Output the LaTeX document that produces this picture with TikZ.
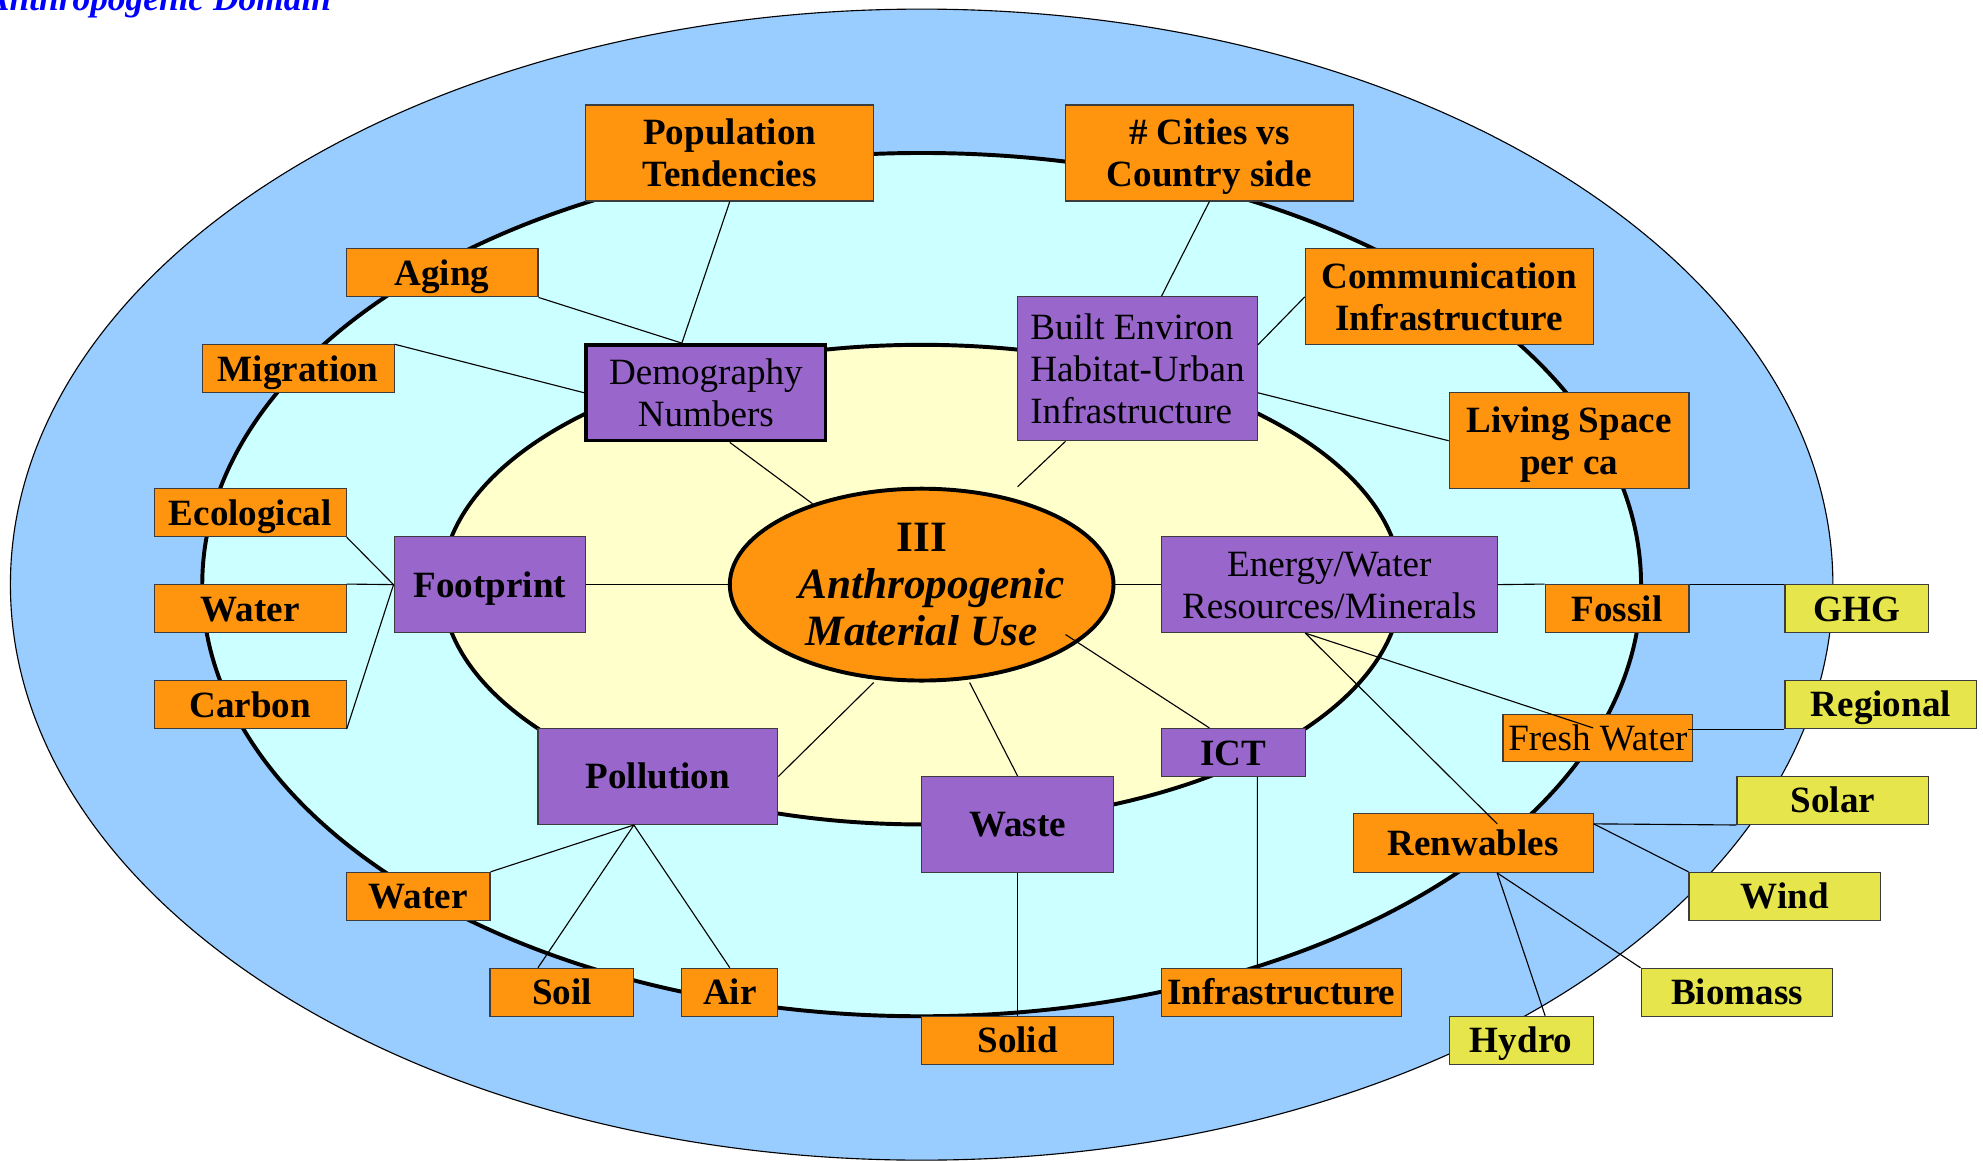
\documentclass[tikz,border=0pt]{standalone}
\usepackage{fontspec}
\setmainfont{Liberation Serif}
\usetikzlibrary{shapes.geometric,calc}

\definecolor{sky}{HTML}{99CCFF}
\definecolor{aqua}{HTML}{CCFFFF}
\definecolor{cream}{HTML}{FFFFCC}
\definecolor{orng}{HTML}{FF950E}
\definecolor{purp}{HTML}{9966CC}
\definecolor{yell}{HTML}{E6E64C}
\definecolor{edge}{HTML}{3C3C3C}
\newlength\gu
\setlength\gu{0.6cm}
\newcommand\boxfont{\fontsize{13.2pt}{14.9pt}\selectfont}
\newcommand\matfont{\fontsize{15.4pt}{16.8pt}\selectfont}
\newcommand\ts{\rule[-2.85pt]{0pt}{14.61pt}}

\begin{document}
\begin{tikzpicture}[x=0.6cm, y=-0.6cm,
  box/.style={draw=edge, line width=0.4pt, inner sep=0pt, align=center, font=\boxfont\bfseries, execute at begin node=\ts},
  sz/.style 2 args={minimum width=#1\gu, minimum height=#2\gu},
  obox/.style={box, fill=orng},
  pbox/.style={box, fill=purp},
  ybox/.style={box, fill=yell},
  link/.style={draw=black, line width=0.4pt}]
\useasboundingbox (-0.217,-0.19) rectangle (41.13,24.0);

\filldraw[fill=sky, line width=0.4pt] (19,12) ellipse [x radius=19, y radius=12];
\filldraw[fill=aqua, line width=1.4pt] (19,12) ellipse [x radius=15, y radius=9];
\filldraw[fill=cream, line width=1.4pt] (19,12) ellipse [x radius=10, y radius=5];

\node[anchor=base east, inner sep=0pt, text=blue, font=\fontsize{12.6pt}{14pt}\selectfont\bfseries\itshape] (title) at (6.7,0.02) {Anthropogenic Domain};

\node[obox, sz={6}{2}] (popul) at (15,3) {\ts Population\\\ts Tendencies};
\node[obox, sz={6}{2}] (cities) at (25,3) {\ts\# Cities vs\\\ts Country side};
\node[obox, sz={4}{1}] (aging) at (9,5.5) {Aging};
\node[obox, sz={6}{2}] (comm) at (30,6) {\ts Communication\\\ts Infrastructure};
\node[obox, sz={4}{1}] (migr) at (6,7.5) {Migration};
\node[pbox, sz={5}{2}, line width=1.2pt, draw=black, font=\boxfont] (demo) at (14.5,8) {\ts Demography\\\ts Numbers};
\node[pbox, sz={5}{3}, font=\boxfont, align=left] (built) at (23.5,7.5) {\ts Built Environ\\\ts Habitat-Urban\\\ts Infrastructure};
\node[obox, sz={5}{2}] (living) at (32.5,9) {\ts Living Space\\\ts per ca};

\node[obox, sz={4}{1}] (eco) at (5,10.5) {Ecological};
\node[pbox, sz={4}{2}] (foot) at (10,12) {Footprint};
\node[obox, sz={4}{1}] (waterl) at (5,12.5) {Water};
\node[obox, sz={4}{1}] (carbon) at (5,14.5) {Carbon};

\node[draw=black, line width=1.4pt, fill=orng, ellipse, minimum width=8\gu, minimum height=4\gu, inner sep=0pt, align=center, font=\matfont\bfseries] (mat) at (19,12) {III\\\itshape\makebox[0pt]{\hspace*{7.2pt}Anthropogenic}\\\itshape Material Use};

\node[pbox, sz={7}{2}, font=\boxfont] (energy) at (27.5,12) {\ts Energy/Water\\\ts Resources/Minerals};
\node[obox, sz={3}{1}] (fossil) at (33.5,12.5) {Fossil};
\node[ybox, sz={3}{1}] (ghg) at (38.5,12.5) {GHG};
\node[ybox, sz={4}{1}] (regional) at (39,14.5) {Regional};
\node[obox, sz={3.96}{0.98}, font=\boxfont] (fresh) at (33.1,15.2) {Fresh Water};

\node[pbox, sz={3}{1}] (ict) at (25.5,15.5) {ICT};
\node[pbox, sz={5}{2}] (poll) at (13.5,16) {Pollution};
\node[pbox, sz={4}{2}] (waste) at (21,17) {Waste};
\node[ybox, sz={4}{1}] (solar) at (38,16.5) {Solar};
\node[obox, sz={5}{1.23}] (renew) at (30.5,17.385) {Renwables};
\node[ybox, sz={4}{1}] (wind) at (37,18.5) {Wind};

\node[obox, sz={3}{1}] (waterb) at (8.5,18.5) {Water};
\node[obox, sz={3}{1}] (soil) at (11.5,20.5) {Soil};
\node[obox, sz={2}{1}] (air) at (15,20.5) {Air};
\node[obox, sz={5}{1}] (infra) at (26.5,20.5) {Infrastructure};
\node[ybox, sz={4}{1}] (biomass) at (36,20.5) {Biomass};
\node[obox, sz={4}{1}] (solid) at (21,21.5) {Solid};
\node[ybox, sz={3}{1}] (hydro) at (31.5,21.5) {Hydro};

\coordinate (bfree) at ($(mat.north)+(2,0)$);
\coordinate (etap) at ($(energy.south)+(-0.5,0)$);
\coordinate (rtop) at ($(renew.north east)+(0,0.23)$);
\coordinate (rbot) at ($(renew.south)+(0.5,0)$);
\coordinate (pbot) at ($(poll.south)+(-0.5,0)$);

\draw[link] (popul.south) -- ($(demo.north)+(-0.5,0)$);
\draw[link] (aging.south east) -- ($(demo.north)+(-0.5,0)$);
\draw[link] (migr.north east) -- (demo.west);
\draw[link] ($(demo.south)+(0.5,0)$) -- (mat);
\draw[link] (cities.south) -- ($(built.north)+(0.5,0)$);
\draw[link] (comm.west) -- ($(built.east)+(0,-0.5)$);
\draw[link] (living.west) -- ($(built.east)+(0,0.5)$);
\draw[link] ($(built.south)+(-1.5,0)$) -- (bfree);

\draw[link] (eco.south east) -- (foot.west);
\draw[link] (waterl.north east) -- (foot.west);
\draw[link] (carbon.south east) -- (foot.west);
\draw[link] (foot.east) -- (mat);
\draw[link] (mat) -- (energy.west);

\draw[link] (energy.east) -- (fossil.north west);
\draw[link] (fossil.north east) -- (ghg.north west);
\draw[link] (etap) -- ($(fresh.north)+(-0.1,0.29)$);
\draw[link] (etap) -- ($(renew.north)+(0.5,0.23)$);
\draw[link] (regional.south west) -- ($(regional.south west)+(-2,0)$);
\draw[link] (rtop) -- (solar.south west);
\draw[link] (rtop) -- (wind.north west);
\draw[link] (rbot) -- (biomass.north west);
\draw[link] (rbot) -- ($(hydro.north)+(0.5,0)$);

\draw[link] ($(mat.south)+(3,-1)$) -- ($(ict.north)+(-0.5,0)$);
\draw[link] ($(ict.south)+(0.5,0)$) -- ($(infra.north)+(-0.5,0)$);
\draw[link] ($(mat.south)+(1,0)$) -- (waste.north);
\draw[link] ($(mat.south)+(-1,0)$) -- (poll.east);
\draw[link] (waste.south) -- (solid.north);
\draw[link] (pbot) -- (waterb.north east);
\draw[link] (pbot) -- ($(soil.north)+(-0.5,0)$);
\draw[link] (pbot) -- (air.north);

\end{tikzpicture}
\end{document}
